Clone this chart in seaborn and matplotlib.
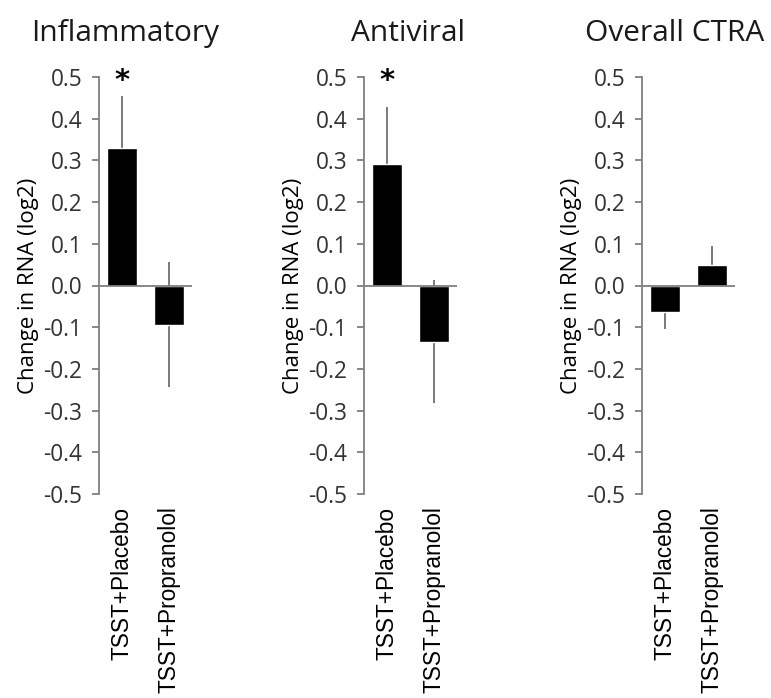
import numpy as np
import pandas as pd
import seaborn as sns
import matplotlib.pyplot as plt

"""
Change in RNA expression (log2) per gene set, placebo vs propranolol
"""
# Data
categories = ["TSST+Placebo", "TSST+Propranolol"]
panel_titles = ["Inflammatory", "Antiviral", "Overall CTRA"]

inflammatory_means = [0.33, -0.094]
inflammatory_err = [0.125, 0.15]
antiviral_means = [0.291, -0.135]
antiviral_err = [0.136, 0.147]
ctra_means = [-0.064, 0.049]
ctra_err = [0.041, 0.045]
significant = [[True, False], [True, False], [False, False]]

yticks = [-0.5, -0.4, -0.3, -0.2, -0.1, 0.0, 0.1, 0.2, 0.3, 0.4, 0.5]

all_means = [inflammatory_means, antiviral_means, ctra_means]
all_err = [inflammatory_err, antiviral_err, ctra_err]

sns.set_style("white")
plt.rcParams["font.family"] = ["Open Sans", "DejaVu Sans"]

fig = plt.figure(figsize=(7.71, 6.98), dpi=100)

# layout (figure fractions)
lefts = [99 / 771, 364 / 771, 642 / 771]
title_x = [-0.22, -0.03, -0.15]
axis_gray = "#7f7f7f"
text_col = "#333333"

for i, title in enumerate(panel_titles):
    ax = fig.add_axes([lefts[i], 1 - 494 / 698, 93 / 771, 417 / 698])
    df = pd.DataFrame({"group": categories, "value": all_means[i], "err": all_err[i]})

    # error bars (symmetric, behind the bars)
    ax.errorbar(x=np.arange(len(df)), y=df["value"], yerr=df["err"], fmt="none",
                ecolor="#6e6e6e", elinewidth=1.3, capsize=0, zorder=1)
    sns.barplot(data=df, x="group", y="value", color="black", width=0.65,
                errorbar=None, saturation=1, ax=ax, zorder=2)
    for p in ax.patches:
        p.set_zorder(2)

    ax.axhline(0, color=axis_gray, lw=1.3, zorder=3)
    for j, sig in enumerate(significant[i]):
        if sig:
            ax.text(j, 0.49, "*", ha="center", va="center", fontsize=21,
                    fontweight="bold", color="black", family="DejaVu Sans")

    ax.set_xlim(-0.5, 1.5)
    ax.set_ylim(-0.5, 0.5)
    ax.set_yticks(yticks)
    ax.set_yticklabels([f"{t:.1f}" for t in yticks], fontsize=16.3, color=text_col)
    ax.set_xticks(range(len(categories)))
    ax.set_xticklabels(categories, rotation=90, fontsize=16.3, color="black",
                       family="Liberation Sans", va="top")
    ax.tick_params(axis="x", length=0, pad=9)
    ax.tick_params(axis="y", length=5, width=1.3, color=axis_gray, direction="out",
                   left=True, pad=7)
    ax.set_xlabel("")
    ax.set_ylabel("Change in RNA (log2)", fontsize=16, color="black", labelpad=3)

    for side in ["top", "right", "bottom"]:
        ax.spines[side].set_visible(False)
    ax.spines["left"].set_color(axis_gray)
    ax.spines["left"].set_linewidth(1.3)

    ax.text(0.5 + title_x[i], 1.105, title, transform=ax.transAxes,
            ha="center", va="center", fontsize=21.5, color="#1a1a1a")

fig.savefig("out.png", dpi=100)
